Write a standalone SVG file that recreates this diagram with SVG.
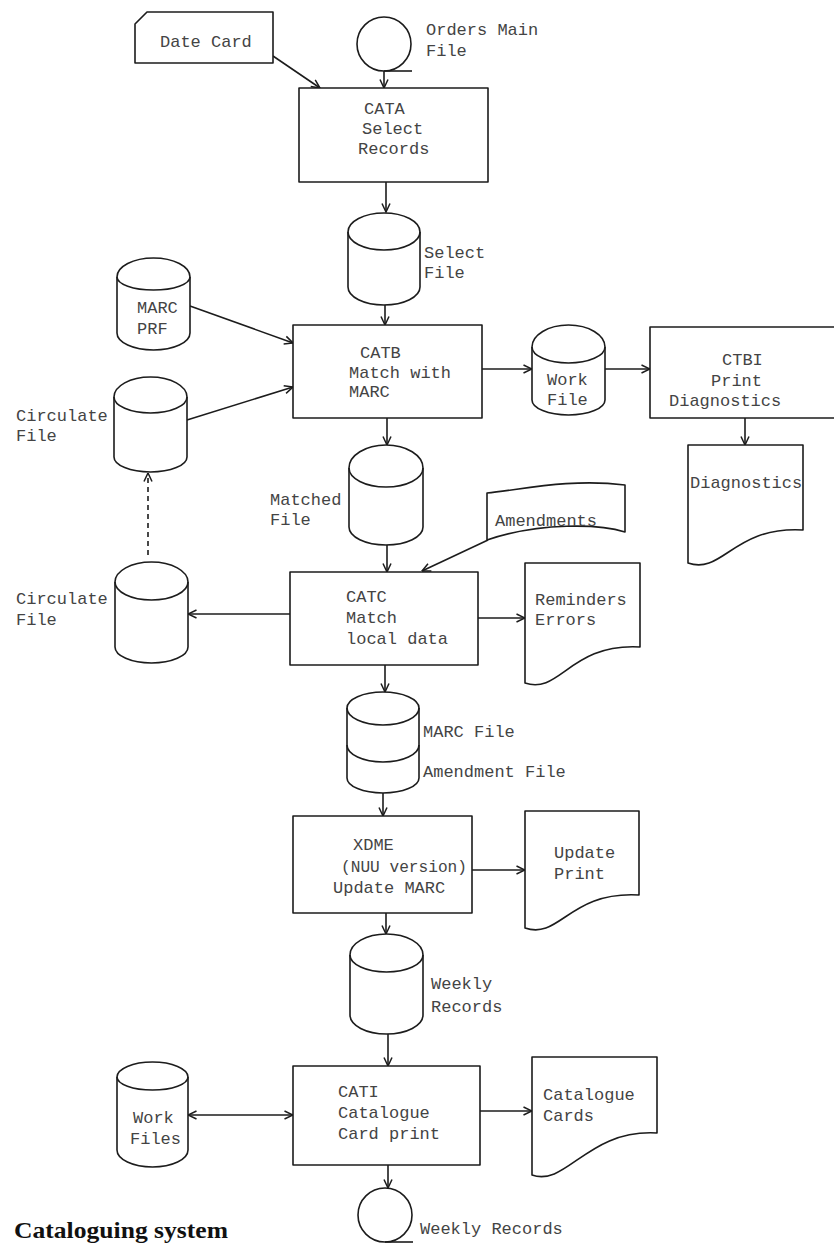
<svg xmlns="http://www.w3.org/2000/svg" width="834" height="1246" viewBox="0 0 834 1246">
<style>
.s{fill:#fff;stroke:#1c1c1c;stroke-width:1.6;stroke-linejoin:round}
.l{fill:none;stroke:#1c1c1c;stroke-width:1.6}
.c{fill:none;stroke:#1c1c1c;stroke-width:1.6;marker-end:url(#arr)}
.d{fill:none;stroke:#1c1c1c;stroke-width:1.6;stroke-dasharray:5 4;marker-end:url(#arr)}
text{font-family:"Liberation Mono","DejaVu Sans Mono",monospace;font-size:17px;fill:#444}
.title{font-family:"Liberation Serif","Times New Roman",serif;font-weight:bold;font-size:23px;fill:#111}
</style>
<defs>
<marker id="arr" viewBox="0 0 10 10" refX="9.5" refY="5" markerWidth="10" markerHeight="10" markerUnits="userSpaceOnUse" orient="auto-start-reverse">
<path d="M1,1 L9.5,5 L1,9" fill="none" stroke="#1c1c1c" stroke-width="1.5"/>
</marker>
</defs>
<rect width="834" height="1246" fill="#fff"/>

<g id="connectors">
<line class="c" x1="273" y1="56" x2="320" y2="88"/>
<line class="c" x1="384" y1="71" x2="384" y2="88"/>
<line class="c" x1="386" y1="182" x2="386" y2="212"/>
<line class="c" x1="385" y1="305" x2="385" y2="325"/>
<line class="c" x1="190" y1="306" x2="293" y2="343"/>
<line class="c" x1="187" y1="420" x2="293" y2="387"/>
<line class="c" x1="482" y1="369" x2="532" y2="369"/>
<line class="c" x1="605" y1="369" x2="650" y2="369"/>
<line class="c" x1="745" y1="418" x2="745" y2="445"/>
<line class="c" x1="387" y1="418" x2="387" y2="445"/>
<line class="c" x1="387" y1="545" x2="387" y2="572"/>
<line class="c" x1="488" y1="540" x2="422" y2="571"/>
<line class="c" x1="290" y1="614" x2="188" y2="614"/>
<line class="d" x1="148" y1="555" x2="148" y2="473"/>
<line class="c" x1="478" y1="618" x2="525" y2="618"/>
<line class="c" x1="385" y1="665" x2="385" y2="692"/>
<line class="c" x1="383" y1="793" x2="383" y2="816"/>
<line class="c" x1="472" y1="870" x2="525" y2="870"/>
<line class="c" x1="386" y1="913" x2="386" y2="934"/>
<line class="c" x1="388" y1="1034" x2="388" y2="1066"/>
<line class="c" x1="188" y1="1115" x2="293" y2="1115" marker-start="url(#arr)"/>
<line class="c" x1="480" y1="1111" x2="532" y2="1111"/>
<line class="c" x1="388" y1="1165" x2="388" y2="1188"/>
</g>

<g id="date-card">
<path class="s" d="M135,24 L147,12 H273 V63 H135 Z"/>
<text x="160" y="47">Date Card</text>
</g>

<g id="orders-main-file">
<circle class="s" cx="384" cy="44" r="27"/>
<line class="l" x1="384" y1="71" x2="412" y2="71"/>
<text x="426" y="35">Orders Main</text>
<text x="426" y="56">File</text>
</g>

<g id="cata">
<rect class="s" x="299" y="88" width="189" height="94"/>
<text x="364" y="114">CATA</text>
<text x="362" y="134">Select</text>
<text x="358" y="154">Records</text>
</g>

<g id="select-file">
<path class="s" d="M348,232 A36,19 0 0 1 420,232 L420,287 A36,18 0 0 1 348,287 Z"/>
<path class="l" d="M348,232 A36,18 0 0 0 420,232"/>
<text x="424" y="258">Select</text>
<text x="424" y="278">File</text>
</g>

<g id="marc-prf">
<path class="s" d="M117,277 A36.5,19 0 0 1 190,277 L190,333 A36.5,17 0 0 1 117,333 Z"/>
<path class="l" d="M117,277 A36.5,13 0 0 0 190,277"/>
<text x="137" y="313">MARC</text>
<text x="137" y="334">PRF</text>
</g>

<g id="catb">
<rect class="s" x="293" y="325" width="189" height="93"/>
<text x="360" y="358">CATB</text>
<text x="349" y="378">Match with</text>
<text x="349" y="397">MARC</text>
</g>

<g id="work-file">
<path class="s" d="M532,347 A36.5,22 0 0 1 605,347 L605,400 A36.5,15 0 0 1 532,400 Z"/>
<path class="l" d="M532,347 A36.5,16 0 0 0 605,347"/>
<text x="547" y="385">Work</text>
<text x="547" y="405">File</text>
</g>

<g id="ctbi">
<rect class="s" x="650" y="327" width="190" height="91"/>
<text x="722" y="365">CTBI</text>
<text x="711" y="386">Print</text>
<text x="669" y="406">Diagnostics</text>
</g>

<g id="diagnostics">
<path class="s" d="M688,445 H803 V530 C733,526 723,575 688,563 Z"/>
<text x="690" y="488">Diagnostics</text>
</g>

<g id="circulate-file-upper">
<path class="s" d="M114,397 A36.5,20 0 0 1 187,397 L187,457 A36.5,15 0 0 1 114,457 Z"/>
<path class="l" d="M114,397 A36.5,16 0 0 0 187,397"/>
<text x="16" y="421">Circulate</text>
<text x="16" y="441">File</text>
</g>

<g id="matched-file">
<path class="s" d="M349,468 A37,23 0 0 1 423,468 L423,527 A37,18 0 0 1 349,527 Z"/>
<path class="l" d="M349,468 A37,19 0 0 0 423,468"/>
<text x="270" y="505">Matched</text>
<text x="270" y="525">File</text>
</g>

<g id="amendments">
<path class="s" d="M487,493 C520,490 570,478 625,485 L625,532 C600,524 540,522 487,540 Z"/>
<text x="495" y="526">Amendments</text>
</g>

<g id="circulate-file-lower">
<path class="s" d="M115,582 A36.5,20 0 0 1 188,582 L188,647 A36.5,16 0 0 1 115,647 Z"/>
<path class="l" d="M115,582 A36.5,18 0 0 0 188,582"/>
<text x="16" y="604">Circulate</text>
<text x="16" y="625">File</text>
</g>

<g id="catc">
<rect class="s" x="290" y="572" width="188" height="93"/>
<text x="346" y="602">CATC</text>
<text x="346" y="623">Match</text>
<text x="346" y="644">local data</text>
</g>

<g id="reminders-errors">
<path class="s" d="M525,563 H640 V647 C570,643 560,695 525,683 Z"/>
<text x="535" y="605">Reminders</text>
<text x="535" y="625">Errors</text>
</g>

<g id="marc-amendment-file">
<path class="s" d="M347,708 A36,16 0 0 1 419,708 L419,778 A36,15 0 0 1 347,778 Z"/>
<path class="l" d="M347,708 A36,17 0 0 0 419,708"/>
<path class="l" d="M347,745 A36,17 0 0 0 419,745"/>
<text x="423" y="737">MARC File</text>
<text x="423" y="777">Amendment File</text>
</g>

<g id="xdme">
<rect class="s" x="293" y="816" width="179" height="97"/>
<text x="353" y="850">XDME</text>
<text x="341" y="872" textLength="126" lengthAdjust="spacingAndGlyphs">(NUU version)</text>
<text x="333" y="893">Update MARC</text>
</g>

<g id="update-print">
<path class="s" d="M525,811 H639 V895 C569,891 560,940 525,928 Z"/>
<text x="554" y="858">Update</text>
<text x="554" y="879">Print</text>
</g>

<g id="weekly-records-file">
<path class="s" d="M350,955 A36.5,21 0 0 1 423,955 L423,1015 A36.5,19 0 0 1 350,1015 Z"/>
<path class="l" d="M350,955 A36.5,17 0 0 0 423,955"/>
<text x="431" y="989">Weekly</text>
<text x="431" y="1012">Records</text>
</g>

<g id="work-files">
<path class="s" d="M117,1077 A35.5,15 0 0 1 188,1077 L188,1150 A35.5,17 0 0 1 117,1150 Z"/>
<path class="l" d="M117,1077 A35.5,13 0 0 0 188,1077"/>
<text x="133" y="1123">Work</text>
<text x="130" y="1144">Files</text>
</g>

<g id="cati">
<rect class="s" x="293" y="1066" width="187" height="99"/>
<text x="338" y="1097">CATI</text>
<text x="338" y="1118">Catalogue</text>
<text x="338" y="1139">Card print</text>
</g>

<g id="catalogue-cards">
<path class="s" d="M532,1057 H657 V1133 C587,1129 567,1187 532,1175 Z"/>
<text x="543" y="1100">Catalogue</text>
<text x="543" y="1121">Cards</text>
</g>

<g id="weekly-records-tape">
<circle class="s" cx="385" cy="1215" r="27"/>
<line class="l" x1="385" y1="1242" x2="413" y2="1242"/>
<text x="420" y="1234">Weekly Records</text>
</g>

<g id="caption">
<text class="title" x="14" y="1238" textLength="214" lengthAdjust="spacingAndGlyphs">Cataloguing system</text>
</g>
</svg>
